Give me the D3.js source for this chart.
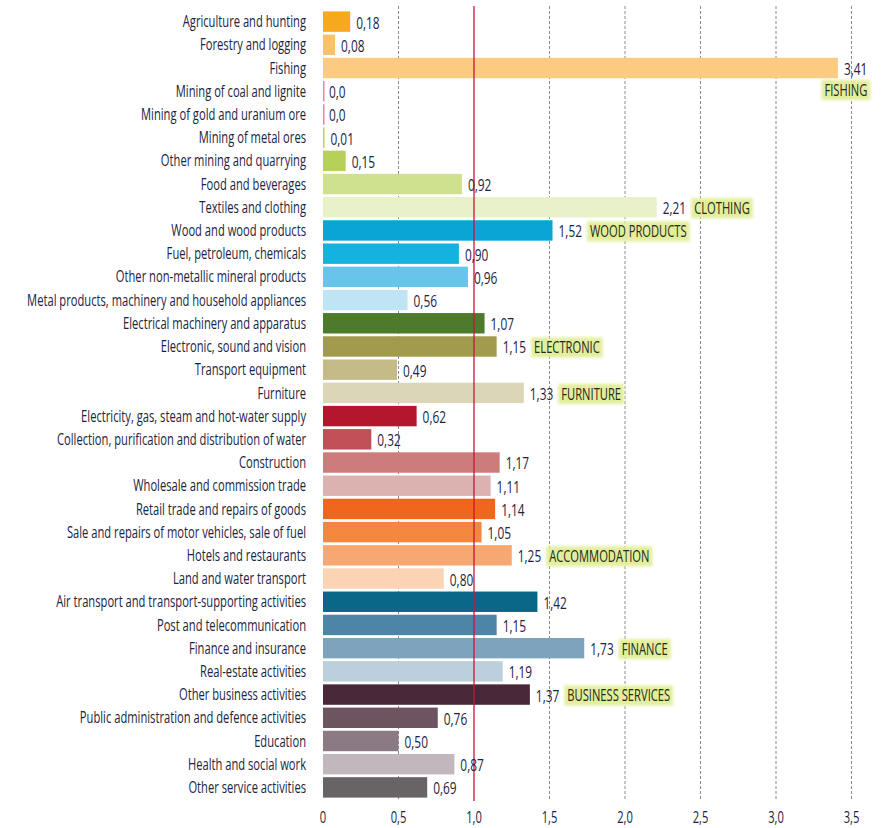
<!DOCTYPE html>
<html>
<head>
<meta charset="utf-8">
<script src="https://cdn.jsdelivr.net/npm/d3@7"></script>
<style>
  html, body { margin: 0; padding: 0; background: #fff; }
  svg { display: block; }
  text { font-family: "Open Sans", "DejaVu Sans Condensed", sans-serif; }
</style>
</head>
<body>
<svg id="chart" width="882" height="828"></svg>
<script>
// Industries, top to bottom
const categories = [
  "Agriculture and hunting",
  "Forestry and logging",
  "Fishing",
  "Mining of coal and lignite",
  "Mining of gold and uranium ore",
  "Mining of metal ores",
  "Other mining and quarrying",
  "Food and beverages",
  "Textiles and clothing",
  "Wood and wood products",
  "Fuel, petroleum, chemicals",
  "Other non-metallic mineral products",
  "Metal products, machinery and household appliances",
  "Electrical machinery and apparatus",
  "Electronic, sound and vision",
  "Transport equipment",
  "Furniture",
  "Electricity, gas, steam and hot-water supply",
  "Collection, purification and distribution of water",
  "Construction",
  "Wholesale and commission trade",
  "Retail trade and repairs of goods",
  "Sale and repairs of motor vehicles, sale of fuel",
  "Hotels and restaurants",
  "Land and water transport",
  "Air transport and transport-supporting activities",
  "Post and telecommunication",
  "Finance and insurance",
  "Real-estate activities",
  "Other business activities",
  "Public administration and defence activities",
  "Education",
  "Health and social work",
  "Other service activities"
];

const values = [
  0.18, 0.08, 3.41, 0.0, 0.0, 0.01, 0.15, 0.92, 2.21, 1.52,
  0.90, 0.96, 0.56, 1.07, 1.15, 0.49, 1.33, 0.62, 0.32, 1.17,
  1.11, 1.14, 1.05, 1.25, 0.80, 1.42, 1.15, 1.73, 1.19, 1.37,
  0.76, 0.50, 0.87, 0.69
];

const colors = [
  "#f7a81c", "#f9c266", "#fbcb82", "#dc8aa2", "#dc8aa2", "#c6d43a", "#b7d05a", "#cfe08e",
  "#e9f1cb", "#0aa5d4", "#14b3df", "#67c4ea", "#bfe4f3", "#4e7a2c", "#a29a4c", "#c4bb88",
  "#dcd6b9", "#b4162e", "#c14f58", "#cd7c7c", "#dcb2b1", "#ef661c", "#f4873e", "#f7a872",
  "#fbd4b6", "#0b6787", "#4c86a6", "#7ea3bd", "#bccfdc", "#482838", "#6c5461", "#8b7a83",
  "#c2b7bd", "#686365"
];

// Highlighted sectors: tag text and whether it sits under the value label
const highlightCats = ["Fishing", "Textiles and clothing", "Wood and wood products",
  "Electronic, sound and vision", "Furniture", "Hotels and restaurants",
  "Finance and insurance", "Other business activities"];
const highlightText = ["FISHING", "CLOTHING", "WOOD PRODUCTS", "ELECTRONIC",
  "FURNITURE", "ACCOMMODATION", "FINANCE", "BUSINESS SERVICES"];
const highlightBelow = [true, false, false, false, false, false, false, false];

const tickValues = [0, 0.5, 1.0, 1.5, 2.0, 2.5, 3.0, 3.5];
const referenceValue = 1.0;

const fmt = v => d3.format(v === 0 ? ".1f" : ".2f")(v).replace(".", ",");
const tickFmt = v => v === 0 ? "0" : d3.format(".1f")(v).replace(".", ",");

const svg = d3.select("#chart");
const margin = { top: 10, right: 30, bottom: 29, left: 323 };
const W = 882, H = 828;

const x = d3.scaleLinear().domain([0, 3.5]).range([margin.left, 851.5]);
const y = d3.scaleBand().domain(categories)
  .range([margin.top, H - margin.bottom])
  .paddingInner(0.12).paddingOuter(0.06);

const textColor = "#1c2340";

// Narrow lettering: every label is squeezed horizontally by one common factor,
// chosen so the longest category name fits the left margin.
const probe = svg.append("text").attr("font-size", 16)
  .text(d3.greatest(categories, c => c.length));
const squeeze = Math.min(1, 279 / probe.node().getComputedTextLength());
probe.remove();

function narrowText(g, px, py, str, opts) {
  return g.append("text")
    .attr("transform", `translate(${px},${py}) scale(${squeeze},1)`)
    .attr("dy", "0.35em")
    .attr("font-size", opts.size)
    .attr("text-anchor", opts.anchor || "start")
    .attr("fill", opts.fill || textColor)
    .text(str);
}
const width = t => t.node().getComputedTextLength() * squeeze;

// Soft edge for highlight boxes
const defs = svg.append("defs");
const glow = defs.append("filter").attr("id", "soft").attr("x", "-20%").attr("y", "-40%")
  .attr("width", "140%").attr("height", "180%");
glow.append("feGaussianBlur").attr("stdDeviation", 1.4);

// Grid lines
const gridTop = 6, gridBottom = 801;
svg.append("g").selectAll("line")
  .data(tickValues.filter(t => t !== 0 && t !== referenceValue))
  .join("line")
  .attr("x1", d => x(d)).attr("x2", d => x(d))
  .attr("y1", gridTop).attr("y2", gridBottom)
  .attr("stroke", "#8a8a8a").attr("stroke-width", 1)
  .attr("stroke-dasharray", "3,2");

// Bars
const bars = categories.map((c, i) => ({ cat: c, value: values[i], color: colors[i] }));
svg.append("g").selectAll("rect")
  .data(bars)
  .join("rect")
  .attr("x", x(0))
  .attr("y", d => y(d.cat))
  .attr("height", y.bandwidth())
  .attr("width", d => Math.max(x(d.value) - x(0), 1.5))
  .attr("fill", d => d.color);

// Reference line at 1.0
svg.append("line")
  .attr("x1", x(referenceValue)).attr("x2", x(referenceValue))
  .attr("y1", gridTop).attr("y2", gridBottom)
  .attr("stroke", "#d0103c").attr("stroke-width", 1.3);

// Category labels
const catG = svg.append("g");
bars.forEach(d => {
  narrowText(catG, x(0) - 17, y(d.cat) + y.bandwidth() / 2, d.cat, { size: 16, anchor: "end" });
});

// Value labels
const valG = svg.append("g");
const labelEnd = {};
bars.forEach(d => {
  const x0 = x(d.value) + 6;
  const t = narrowText(valG, x0, y(d.cat) + y.bandwidth() / 2 + 1, fmt(d.value), { size: 17 });
  labelEnd[d.cat] = x0 + width(t);
});

// Highlight tags
const tagG = svg.append("g");
highlightCats.forEach((c, i) => {
  const below = highlightBelow[i];
  const cy = y(c) + y.bandwidth() / 2 + (below ? 21 : 0);
  const box = tagG.append("rect");
  const t = narrowText(tagG, 0, cy + 1, highlightText[i], { size: 16, fill: "#1e2a1a" });
  const w = width(t);
  const tx = below ? labelEnd[c] - w : labelEnd[c] + 8;
  t.attr("transform", `translate(${tx},${cy + 1}) scale(${squeeze},1)`);
  box.attr("x", tx - 3).attr("y", cy - 9)
    .attr("width", w + 6).attr("height", 20)
    .attr("fill", "#e3ee9c")
    .attr("filter", "url(#soft)");
});

// X axis tick labels
const tickG = svg.append("g");
tickValues.forEach(v => {
  narrowText(tickG, x(v), 817, tickFmt(v), { size: 16, anchor: "middle" });
});
</script>
</body>
</html>
